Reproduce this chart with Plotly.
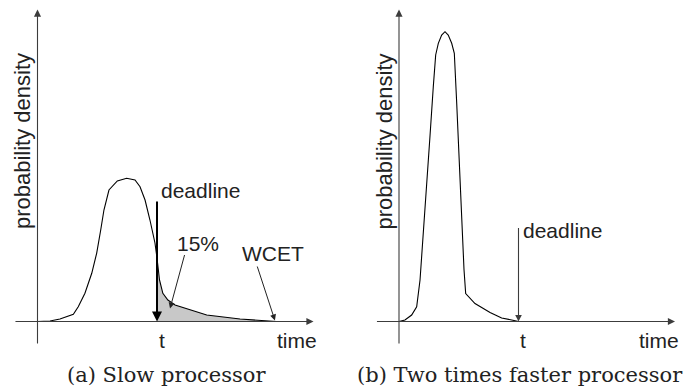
import plotly.graph_objects as go

# ---------------- data ----------------
# (a) slow processor: execution-time probability density
A_TIME = [0, 1.05, 1.88, 2.44, 3.0, 3.41, 3.97, 4.54, 4.95, 5.29, 5.56, 5.98, 6.68, 7.46,
          8.16, 8.58, 9.0, 9.41, 9.83, 10.0, 10.21, 10.49, 10.91, 11.51, 12.76, 14.16,
          16.95, 19.71, 20.0]
A_DENS = [0, 0.005, 0.025, 0.048, 0.072, 0.148, 0.282, 0.482, 0.682, 0.915, 1.115, 1.315,
          1.405, 1.432, 1.415, 1.348, 1.215, 1.015, 0.785, 0.635, 0.415, 0.282, 0.215,
          0.165, 0.115, 0.065, 0.025, 0.008, 0]

# (b) two times faster processor
B_TIME = [0, 0.5, 1.06, 1.48, 1.76, 2.03, 2.32, 2.59, 2.87, 3.07, 3.29, 3.57, 3.85, 4.12,
          4.41, 4.63, 4.83, 5.05, 5.25, 5.44, 5.58, 6.36, 7.62, 8.59, 9.43, 10.0]
B_DENS = [0, 0.015, 0.065, 0.148, 0.415, 0.848, 1.348, 1.848, 2.348, 2.665, 2.782, 2.865,
          2.898, 2.865, 2.782, 2.682, 2.182, 1.515, 1.015, 0.52, 0.28, 0.18, 0.09, 0.035,
          0.015, 0]

DEADLINE = 10.0
WCET = 20.0
MISS_LABEL = "15%"
CAPTION_A = "(a) Slow processor"
CAPTION_B = "(b) Two times faster processor"
Y_TITLE = "probability density"
X_TITLE = "time"
T_LABEL = "t"

# ---------------- styling ----------------
SANS = "Liberation Sans, Arial, Helvetica, sans-serif"
SERIF = "DejaVu Serif, serif"
AXIS_COL = "#3c3c3c"
FILL_COL = "#c8c8c8"

W, H = 693, 388
XR_A = [-3.138, 25.858]
XR_B = [-4.393, 24.603]
YR = [-0.665, 3.215]
X_AX = [-1.97, 23.1]   # axis arrow extent (time)
Y_AX = [-0.235, 3.12]  # axis arrow extent (density)

fig = go.Figure()

# shaded deadline-miss area in (a)
miss_t = [t for t in A_TIME if DEADLINE <= t <= WCET]
miss_d = [d for t, d in zip(A_TIME, A_DENS) if DEADLINE <= t <= WCET]
fig.add_trace(go.Scatter(x=miss_t, y=miss_d, mode="lines", fill="tozeroy",
                         fillcolor=FILL_COL, line=dict(width=0, color=FILL_COL),
                         xaxis="x", yaxis="y", hoverinfo="skip", showlegend=False))

fig.add_trace(go.Scatter(x=A_TIME, y=A_DENS, mode="lines",
                         line=dict(color="black", width=1.1),
                         xaxis="x", yaxis="y", hoverinfo="skip", showlegend=False))
fig.add_trace(go.Scatter(x=B_TIME, y=B_DENS, mode="lines",
                         line=dict(color="black", width=1.1),
                         xaxis="x2", yaxis="y2", hoverinfo="skip", showlegend=False))

ann = []


def arrow(xr, yr, x, y, ax, ay, width=1.0, color=AXIS_COL, size=1.0):
    ann.append(dict(xref=xr, yref=yr, axref=xr, ayref=yr, x=x, y=y, ax=ax, ay=ay,
                    text="", showarrow=True, arrowhead=2, arrowsize=size,
                    arrowwidth=width, arrowcolor=color, standoff=0, startstandoff=0))


def label(xr, yr, x, y, text, size=21, font=SANS, xanchor="center", angle=0):
    ann.append(dict(xref=xr, yref=yr, x=x, y=y, text=text, showarrow=False,
                    xanchor=xanchor, yanchor="middle", textangle=angle,
                    font=dict(family=font, size=size, color="#222222")))


for xr, yr in (("x", "y"), ("x2", "y2")):
    # axes with arrowheads
    arrow(xr, yr, X_AX[1], 0, X_AX[0], 0, width=1.1, size=1.3)
    arrow(xr, yr, 0, Y_AX[1], 0, Y_AX[0], width=1.1, size=1.3)
    label(xr, yr, -1.25, 1.80, Y_TITLE, size=22, angle=-90)
    label(xr, yr, 10.4, -0.185, T_LABEL)
    label(xr, yr, 21.75, -0.185, X_TITLE)

# (a) annotations
arrow("x", "y", DEADLINE, 0, DEADLINE, 1.215, width=2, color="black", size=1.0)
label("x", "y", 10.2, 1.315, "deadline", xanchor="left")
label("x", "y", 13.43, 0.78, MISS_LABEL)
arrow("x", "y", 11.09, 0.13, 12.34, 0.68, width=1.0, color="#222222", size=1.2)
label("x", "y", 19.7, 0.678, "WCET")
arrow("x", "y", 19.87, 0.01, 18.35, 0.565, width=1.0, color="#222222", size=1.2)
label("x", "y", 10.8, -0.535, CAPTION_A, size=21, font=SERIF)

# (b) annotations
arrow("x2", "y2", DEADLINE, 0, DEADLINE, 0.95, width=1.1, color=AXIS_COL, size=1.2)
label("x2", "y2", 10.2, 0.915, "deadline", xanchor="left")
label("x2", "y2", 10.15, -0.535, CAPTION_B, size=21, font=SERIF)

hidden = dict(visible=False, showgrid=False, zeroline=False, fixedrange=True)
fig.update_layout(
    width=W, height=H,
    margin=dict(l=0, r=0, t=0, b=0),
    paper_bgcolor="white", plot_bgcolor="white",
    xaxis=dict(domain=[0, 0.5], range=XR_A, **hidden),
    xaxis2=dict(domain=[0.5, 1], range=XR_B, **hidden),
    yaxis=dict(domain=[0, 1], range=YR, anchor="x", **hidden),
    yaxis2=dict(domain=[0, 1], range=YR, anchor="x2", **hidden),
    annotations=ann,
    showlegend=False,
    hovermode=False,
)

fig.write_html("out.html", config={"displayModeBar": False, "staticPlot": True},
               post_script="document.body.style.margin='0';document.body.style.overflow='hidden';")
